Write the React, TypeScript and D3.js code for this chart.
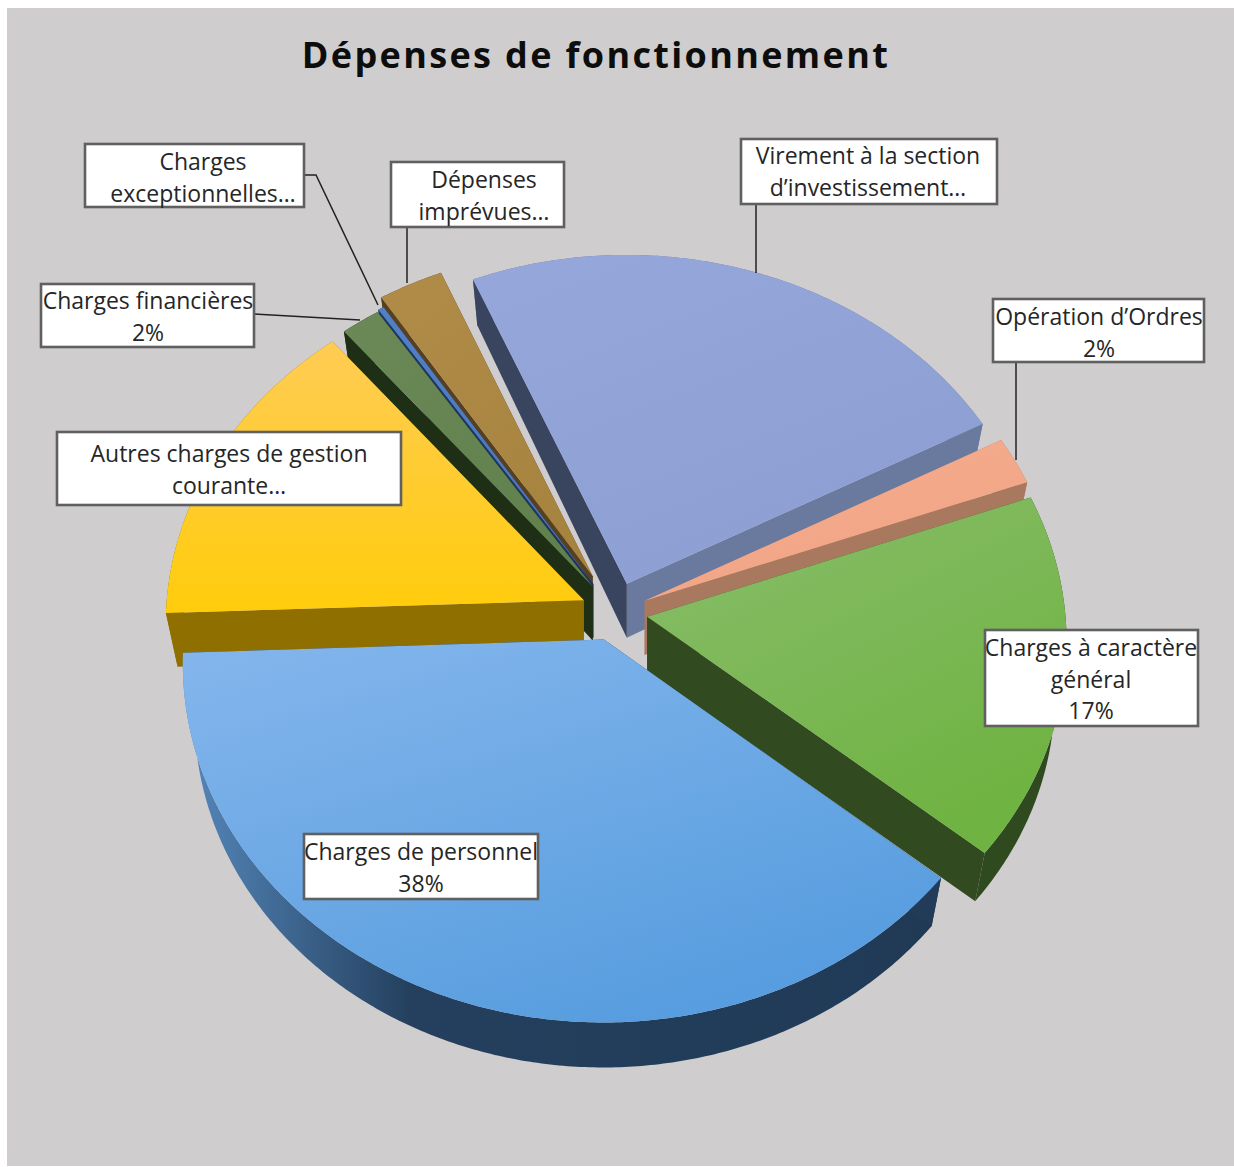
import React from 'react';
import * as d3 from 'd3';

// slices, clockwise from the right-hand edge of "Charges à caractère général"
const sliceNames = ['general', 'personnel', 'autres', 'financieres', 'exceptionnelles', 'imprevues', 'virement', 'ordres'];
const sliceValues = [16.6, 38.4, 14.6, 1.65, 0.25, 2.7, 23.6, 2.2];
const sliceExplode = [0.078, 0.082, 0.082, 0.09, 0.095, 0.115, 0.085, 0.078];
const sliceRadius = [1, 1, 1, 0.99, 0.99, 1, 1, 1];
const drawOrder = ['virement', 'imprevues', 'exceptionnelles', 'financieres', 'ordres', 'autres', 'general', 'personnel'];

const topColors: Record<string, [string, string]> = {
    general: ['#8ABD6C', '#6FB342'],
    personnel: ['#85B6EC', '#579DDF'],
    autres: ['#FFCC55', '#FFCC0C'],
    financieres: ['#6A8957', '#60804D'],
    exceptionnelles: ['#5180C4', '#4A78BC'],
    imprevues: ['#B08C48', '#A78340'],
    virement: ['#96A7DB', '#8C9ED2'],
    ordres: ['#F5AC8E', '#F0A585'],
};
// wall colours: start edge, end edge, curved rim
const wallColors: Record<string, [string, string, string]> = {
    general: ['#324A20', '#324A20', '#2E4A1E'],
    personnel: ['#213B58', '#213B58', 'url(#wall-personnel)'],
    autres: ['#8F6F00', '#8F6F00', '#8F6F00'],
    financieres: ['#1E2F16', '#1E2F16', '#1E2F16'],
    exceptionnelles: ['#1F3560', '#1F3560', '#1F3560'],
    imprevues: ['#574020', '#574020', '#574020'],
    virement: ['#39445F', '#6A7A9F', '#6A7A9F'],
    ordres: ['#A8785F', '#A8785F', '#A8785F'],
};

const labelLines = [
    ['Charges', 'exceptionnelles…'],
    ['Dépenses', 'imprévues…'],
    ['Charges financières', '2%'],
    ['Virement à la section', 'd’investissement…'],
    ['Opération d’Ordres', '2%'],
    ['Autres charges de gestion', 'courante…'],
    ['Charges à caractère', 'général', '17%'],
    ['Charges de personnel', '38%'],
];
// box: x0, y0, x1, y1, text centre x, first baseline
const labelBoxes = [
    [85, 144, 304, 207, 203, 170],
    [391, 162, 564, 227, 484, 188],
    [41, 284, 254, 347, 148, 309],
    [741, 139, 997, 204, 868, 164],
    [993, 299, 1204, 362, 1099, 325],
    [57, 432, 401, 505, 229, 462],
    [985, 630, 1198, 726, 1091, 656],
    [304, 834, 538, 899, 421, 860],
];
const leaderLines: [number, number][][] = [
    [[304, 175], [316, 175], [378, 305]],
    [[407, 227], [407, 283]],
    [[254, 314], [360, 320]],
    [[756, 204], [756, 273]],
    [[1016, 362], [1016, 460]],
];

const WIDTH = 1234;
const HEIGHT = 1167;
const cx = 615;
const cy = 612;
const rx = 418;
const ry = 354;
const persp = 0.0655;
const FONT = '"Open Sans", "Noto Sans", sans-serif';

const xScale = d3.scaleLinear().domain([-1, 1]).range([cx - rx, cx + rx]);
const yScale = d3.scaleLinear().domain([-1, 1]).range([cy + ry, cy - ry]);

const project = (u: number, v: number): [number, number] => {
    const w = 1 + persp * v;
    return [xScale(u / w), yScale(v / w)];
};

const line = d3.line<[number, number]>();

const pie = d3.pie<number>()
    .sort(null)
    .startAngle((69.9 * Math.PI) / 180)
    .endAngle((69.9 * Math.PI) / 180 + 2 * Math.PI);

const arcs = pie(sliceValues);

function sliceShapes(i: number) {
    const { startAngle, endAngle } = arcs[i];
    const mid = (startAngle + endAngle) / 2;
    const u0 = sliceExplode[i] * Math.sin(mid);
    const v0 = sliceExplode[i] * Math.cos(mid);
    const apex = project(u0, v0);
    const radius = sliceRadius[i];

    const rim = (a: number) => project(u0 + radius * Math.sin(a), v0 + radius * Math.cos(a));
    const down = (p: [number, number], a: number, r: number): [number, number] => [
        apex[0] + (p[0] - apex[0]) * 0.972,
        p[1] + 54 - 9 * r * Math.abs(Math.cos(a)),
    ];

    const angles = [...d3.range(startAngle, endAngle, 0.01), endAngle];
    const rimTop = angles.map(rim);
    const rimBottom = angles.map((a, k) => down(rimTop[k], a, 1));
    const apexBottom = down(apex, 0, 0);

    return {
        top: line([apex, ...rimTop])! + 'Z',
        startWall: line([apex, rimTop[0], rimBottom[0], apexBottom])! + 'Z',
        endWall: line([apex, rimTop[rimTop.length - 1], rimBottom[rimBottom.length - 1], apexBottom])! + 'Z',
        rimWall: line([...rimTop, ...[...rimBottom].reverse()])! + 'Z',
    };
}

export default function App() {
    return (
        <svg
            width={WIDTH}
            height={HEIGHT}
            style={{ position: 'absolute', left: 0, top: 0, background: '#fff' }}
        >
            <defs>
                {sliceNames.map(name => (
                    <linearGradient key={name} id={`top-${name}`} x1="0" y1="0" x2={name === 'autres' ? 0 : 0.6} y2="1">
                        <stop offset="0" stopColor={topColors[name][0]} />
                        <stop offset="1" stopColor={topColors[name][1]} />
                    </linearGradient>
                ))}
                <linearGradient id="wall-personnel" x1="0" y1="0" x2="1" y2="0">
                    <stop offset="0" stopColor="#5588BC" />
                    <stop offset="0.3" stopColor="#24405E" />
                    <stop offset="1" stopColor="#203A56" />
                </linearGradient>
            </defs>

            <rect x={7} y={8} width={1227} height={1158} fill="#CFCDCD" />

            <text
                x={596}
                y={68}
                textAnchor="middle"
                fontFamily={FONT}
                fontWeight={700}
                fontSize={36}
                letterSpacing={2.35}
                fill="#0d0d0d"
            >
                Dépenses de fonctionnement
            </text>

            {drawOrder.map(name => {
                const i = sliceNames.indexOf(name);
                const s = sliceShapes(i);
                const walls = wallColors[name];
                return (
                    <g key={name}>
                        <path d={s.rimWall} fill={walls[2]} />
                        <path d={s.endWall} fill={walls[1]} />
                        <path d={s.startWall} fill={walls[0]} />
                        <path d={s.top} fill={`url(#top-${name})`} />
                    </g>
                );
            })}

            {leaderLines.map((pts, i) => (
                <path key={i} d={line(pts)!} fill="none" stroke="#222" strokeWidth={1.5} />
            ))}

            {labelLines.map((lines, i) => {
                const [x0, y0, x1, y1, tx, ty] = labelBoxes[i];
                return (
                    <g key={i}>
                        <rect x={x0} y={y0} width={x1 - x0} height={y1 - y0} fill="#fff" stroke="#606060" strokeWidth={2.6} />
                        {lines.map((t, k) => (
                            <text
                                key={k}
                                x={tx}
                                y={ty + k * 31.5}
                                textAnchor="middle"
                                fontFamily={FONT}
                                fontSize={23}
                                fill="#262626"
                            >
                                {t}
                            </text>
                        ))}
                    </g>
                );
            })}
        </svg>
    );
}
